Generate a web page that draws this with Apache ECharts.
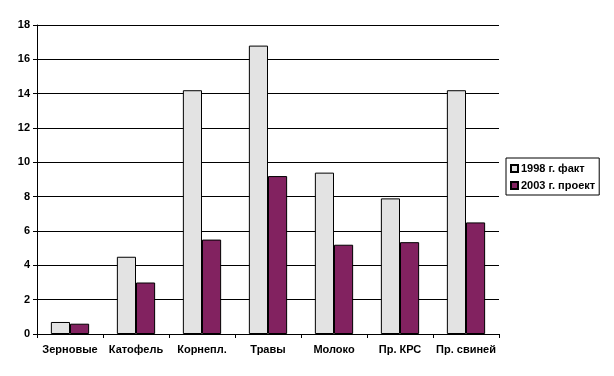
<!DOCTYPE html>
<html>
<head>
<meta charset="utf-8">
<script src="https://cdn.jsdelivr.net/npm/echarts@6/dist/echarts.min.js"></script>
<style>
  html, body { margin: 0; padding: 0; background: #fff; }
  #chart { width: 614px; height: 376px; }
</style>
</head>
<body>
<div id="chart"></div>
<script>
const categories = ["Зерновые", "Катофель", "Корнепл.", "Травы", "Молоко", "Пр. КРС", "Пр. свиней"];
const fact1998 = [0.7, 4.5, 14.2, 16.8, 9.4, 7.9, 14.2];
const project2003 = [0.6, 3.0, 5.5, 9.2, 5.2, 5.35, 6.5];
const yTicks = { min: 0, max: 18, interval: 2 };

const font = { fontFamily: "Liberation Sans, Arial", fontSize: 11, fontWeight: "bold", color: "#000" };

const chart = echarts.init(document.getElementById("chart"));
chart.setOption({
  animation: false,
  grid: { left: 37, right: 115, top: 25, bottom: 42 },
  legend: {
    orient: "vertical",
    left: 506,
    top: 158,
    width: 96,
    padding: [5, 4, 4, 4],
    itemGap: 6,
    itemWidth: 7,
    itemHeight: 7,
    icon: "rect",
    borderColor: "#000",
    borderWidth: 1,
    textStyle: { ...font, padding: [0, 0, 0, -2] },
    data: ["1998 г. факт", "2003 г. проект"]
  },
  xAxis: {
    type: "category",
    data: categories,
    axisLine: { lineStyle: { color: "#000", width: 1 } },
    axisTick: { show: true, length: 4, lineStyle: { color: "#000" } },
    axisLabel: { ...font, margin: 10, interval: 0 }
  },
  yAxis: {
    type: "value",
    min: yTicks.min,
    max: yTicks.max,
    interval: yTicks.interval,
    axisLine: { show: true, lineStyle: { color: "#000", width: 1 } },
    axisTick: { show: true, length: 4, lineStyle: { color: "#000" } },
    axisLabel: { ...font, margin: 7 },
    splitLine: { lineStyle: { color: "#000", width: 1 } }
  },
  series: [
    {
      name: "1998 г. факт",
      type: "bar",
      data: fact1998,
      barGap: "0%",
      barCategoryGap: "42%",
      itemStyle: { color: "#e3e3e3", borderColor: "#000", borderWidth: 1 }
    },
    {
      name: "2003 г. проект",
      type: "bar",
      data: project2003,
      itemStyle: { color: "#822260", borderColor: "#000", borderWidth: 1 }
    }
  ]
});
</script>
</body>
</html>
